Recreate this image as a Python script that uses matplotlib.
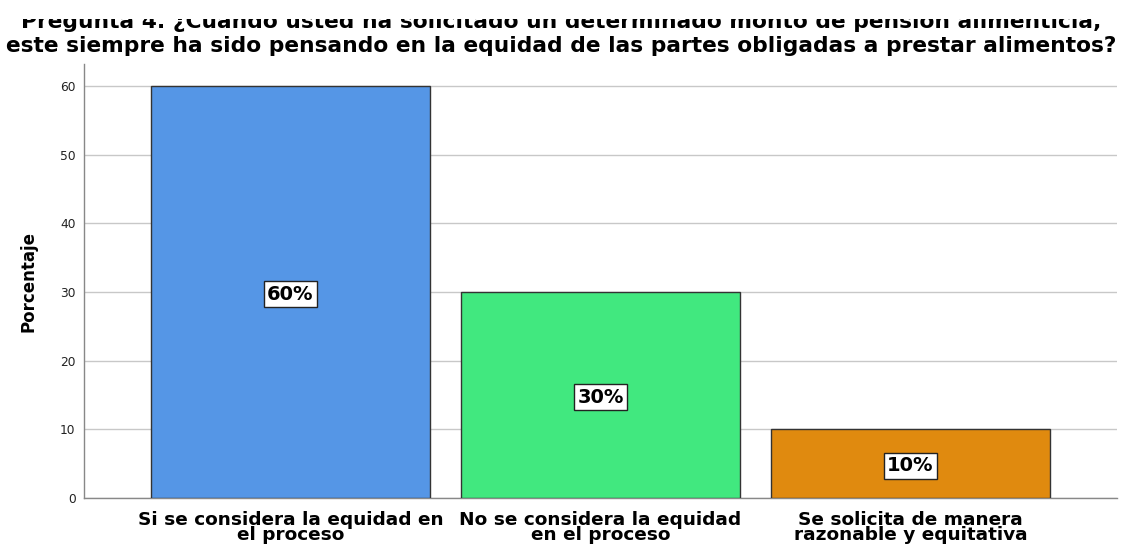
import matplotlib
matplotlib.use("Agg")
import matplotlib.pyplot as plt
from matplotlib.patches import Rectangle
from matplotlib.transforms import offset_copy

categories = ["Si se considera la equidad en\nel proceso",
              "No se considera la equidad\nen el proceso",
              "Se solicita de manera\nrazonable y equitativa"]
values = [60, 30, 10]
bar_labels = ["60%", "30%", "10%"]
colors = ["#5596E6", "#41E87F", "#E08A0F"]
yticks = [0, 10, 20, 30, 40, 50, 60]
title = ("Pregunta 4. ¿Cuando usted ha solicitado un determinado monto de pensión alimenticia,\n"
         "este siempre ha sido pensando en la equidad de las partes obligadas a prestar alimentos?")

plt.rcParams['font.family'] = ['DejaVu Sans']

fig = plt.figure(figsize=(11.22, 5.45), dpi=100)
ax = fig.add_axes([84/1122, 47/545, 1033/1122, 434/545])
x = list(range(len(values)))
ax.bar(x, values, width=0.9, color=colors, edgecolor="#333333", linewidth=1.0, zorder=3)
ax.set_xlim(-0.666, 2.666)
ax.set_ylim(0, 63.2)
ax.set_yticks(yticks)
ax.yaxis.grid(True, color="#C8C8C8", linewidth=1.0, zorder=0)
ax.set_axisbelow(True)
for s in ["top", "right"]:
    ax.spines[s].set_visible(False)
for s in ["left", "bottom"]:
    ax.spines[s].set_color("#888888")
    ax.spines[s].set_linewidth(1.0)
ax.tick_params(axis="y", labelsize=8.8, length=0, pad=6, labelcolor="#222222")
ax.set_xticks(x)
ax.set_xticklabels(categories, fontsize=13.3, fontweight="bold", linespacing=0.8)
ax.tick_params(axis="x", length=0, pad=9.5)
ax.set_ylabel("Porcentaje", fontsize=12, fontweight="bold", labelpad=16)

label_tr = offset_copy(ax.transData, fig=fig, x=0, y=-1.5, units="points")
for xi, v, lab in zip(x, values, bar_labels):
    ax.text(xi, v / 2, lab, ha="center", va="center", fontsize=14, fontweight="bold", zorder=5,
            transform=label_tr,
            bbox=dict(boxstyle="square,pad=0.19", facecolor="white", edgecolor="#222222", linewidth=1.0))

for i, line in enumerate(title.split("\n")):
    fig.text(0.5, 1 - (28 + 24 * i) / 545, line, ha="center", va="baseline",
             fontsize=15.7, fontweight="bold")

# the reference image crops the top of the first title line
fig.patches.append(Rectangle((0, 1 - 18.5 / 545), 1, 18.5 / 545, transform=fig.transFigure,
                             facecolor="white", edgecolor="none", zorder=10))

fig.savefig("out.png", dpi=100)
